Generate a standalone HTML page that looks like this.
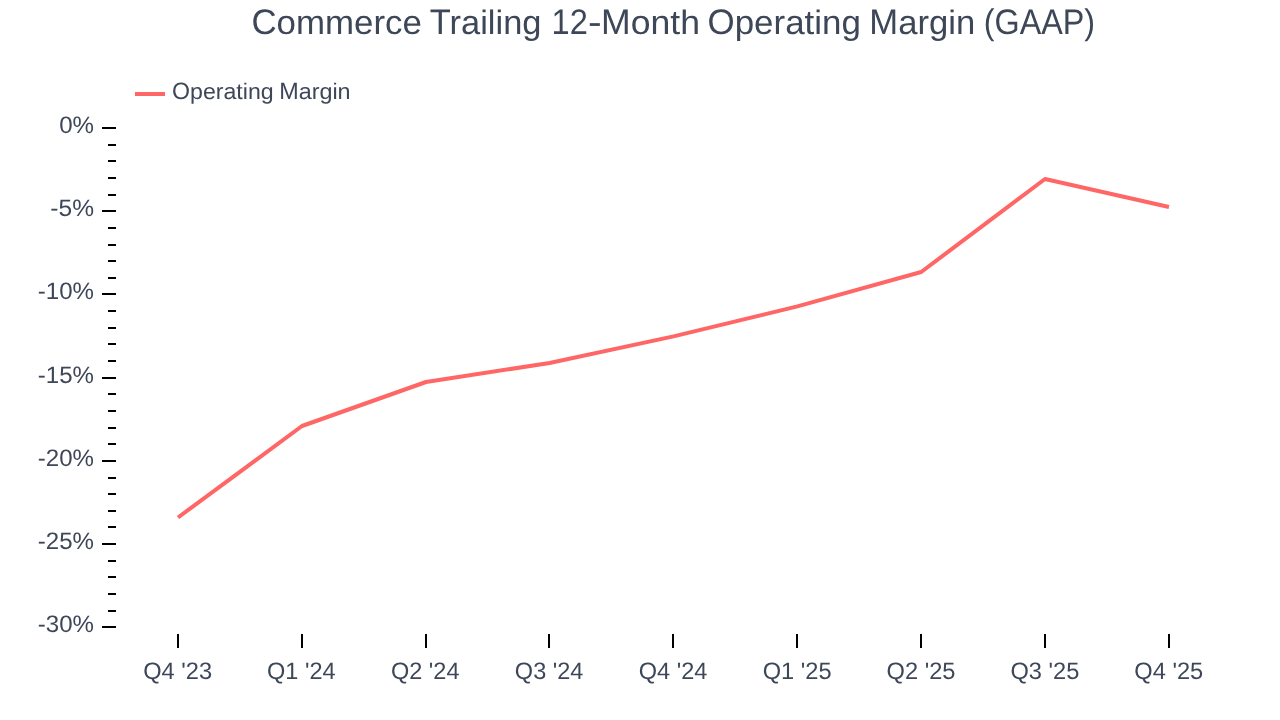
<!DOCTYPE html>
<html><head><meta charset="utf-8"><title>Chart</title>
<style>
html,body{margin:0;padding:0;background:#fff;}
body{width:1280px;height:720px;overflow:hidden;font-family:"Liberation Sans",sans-serif;}
svg{display:block;will-change:transform;}
text{font-family:"Liberation Sans",sans-serif;fill:#3D4758;text-rendering:geometricPrecision;}
</style></head><body>
<svg width="1280" height="720" viewBox="0 0 1280 720">
<text transform="translate(251.40 33.90) scale(0.9797 1)" font-size="35.6">C</text>
<text transform="translate(276.57 33.90) scale(0.9797 0.9520)" font-size="35.6">ommerce</text>
<text transform="translate(429.83 33.90) scale(0.9678 1)" font-size="35.6">T</text>
<text transform="translate(449.58 33.90) scale(0.9678 0.9520)" font-size="35.6">railing</text>
<text transform="translate(551.52 33.90) scale(0.9164 1)" font-size="35.6">12</text>
<text transform="translate(588.07 33.90) scale(1.1533 1)" font-size="35.6">-</text>
<text transform="translate(601.08 33.90) scale(0.9996 1)" font-size="35.6">M</text>
<text transform="translate(630.69 33.90) scale(0.9996 0.9520)" font-size="35.6">onth</text>
<text transform="translate(707.52 33.90) scale(0.9817 1)" font-size="35.6">O</text>
<text transform="translate(734.68 33.90) scale(0.9817 0.9520)" font-size="35.6">perating</text>
<text transform="translate(869.36 33.90) scale(0.9735 1)" font-size="35.6">M</text>
<text transform="translate(898.20 33.90) scale(0.9735 0.9520)" font-size="35.6">argin</text>
<text transform="translate(983.75 33.90) scale(0.9085 1)" font-size="35.6">(GAAP)</text>
<rect x="135" y="92" width="30" height="4" fill="#FF6666"/>
<text transform="translate(172.02 98.70) scale(0.9807 1)" font-size="23.6">O</text>
<text transform="translate(190.01 98.70) scale(0.9807 0.9520)" font-size="23.6">perating</text>
<text transform="translate(279.18 98.70) scale(0.9906 1)" font-size="23.6">M</text>
<text transform="translate(298.64 98.70) scale(0.9906 0.9520)" font-size="23.6">argin</text>
<rect x="102" y="127" width="14" height="2" fill="#000"/>
<text transform="translate(59.19 133.40) scale(1.0139 1)" font-size="23.8">0%</text>
<rect x="108" y="144" width="8" height="2" fill="#000"/>
<rect x="108" y="160" width="8" height="2" fill="#000"/>
<rect x="108" y="177" width="8" height="2" fill="#000"/>
<rect x="108" y="194" width="8" height="2" fill="#000"/>
<rect x="102" y="210" width="14" height="2" fill="#000"/>
<text transform="translate(50.33 216.40) scale(1.0318 1)" font-size="23.8">-5%</text>
<rect x="108" y="227" width="8" height="2" fill="#000"/>
<rect x="108" y="244" width="8" height="2" fill="#000"/>
<rect x="108" y="260" width="8" height="2" fill="#000"/>
<rect x="108" y="277" width="8" height="2" fill="#000"/>
<rect x="102" y="293" width="14" height="2" fill="#000"/>
<text transform="translate(37.75 299.40) scale(1.0120 1)" font-size="23.8">-10%</text>
<rect x="108" y="310" width="8" height="2" fill="#000"/>
<rect x="108" y="327" width="8" height="2" fill="#000"/>
<rect x="108" y="343" width="8" height="2" fill="#000"/>
<rect x="108" y="360" width="8" height="2" fill="#000"/>
<rect x="102" y="377" width="14" height="2" fill="#000"/>
<text transform="translate(37.75 383.40) scale(1.0120 1)" font-size="23.8">-15%</text>
<rect x="108" y="393" width="8" height="2" fill="#000"/>
<rect x="108" y="410" width="8" height="2" fill="#000"/>
<rect x="108" y="427" width="8" height="2" fill="#000"/>
<rect x="108" y="443" width="8" height="2" fill="#000"/>
<rect x="102" y="460" width="14" height="2" fill="#000"/>
<text transform="translate(37.75 466.40) scale(1.0120 1)" font-size="23.8">-20%</text>
<rect x="108" y="477" width="8" height="2" fill="#000"/>
<rect x="108" y="493" width="8" height="2" fill="#000"/>
<rect x="108" y="510" width="8" height="2" fill="#000"/>
<rect x="108" y="526" width="8" height="2" fill="#000"/>
<rect x="102" y="543" width="14" height="2" fill="#000"/>
<text transform="translate(37.75 549.40) scale(1.0120 1)" font-size="23.8">-25%</text>
<rect x="108" y="560" width="8" height="2" fill="#000"/>
<rect x="108" y="576" width="8" height="2" fill="#000"/>
<rect x="108" y="593" width="8" height="2" fill="#000"/>
<rect x="108" y="610" width="8" height="2" fill="#000"/>
<rect x="102" y="626" width="14" height="2" fill="#000"/>
<text transform="translate(37.75 632.40) scale(1.0120 1)" font-size="23.8">-30%</text>
<rect x="177" y="634" width="2" height="14" fill="#000"/>
<text transform="translate(143.15 679.20) scale(0.9936 1)" font-size="23.8">Q4 '23</text>
<rect x="301" y="634" width="2" height="14" fill="#000"/>
<text transform="translate(267.06 679.20) scale(0.9880 1)" font-size="23.8">Q1 '24</text>
<rect x="425" y="634" width="2" height="14" fill="#000"/>
<text transform="translate(390.96 679.20) scale(0.9880 1)" font-size="23.8">Q2 '24</text>
<rect x="548" y="634" width="2" height="14" fill="#000"/>
<text transform="translate(514.86 679.20) scale(0.9880 1)" font-size="23.8">Q3 '24</text>
<rect x="672" y="634" width="2" height="14" fill="#000"/>
<text transform="translate(638.76 679.20) scale(0.9880 1)" font-size="23.8">Q4 '24</text>
<rect x="796" y="634" width="2" height="14" fill="#000"/>
<text transform="translate(762.65 679.20) scale(0.9931 1)" font-size="23.8">Q1 '25</text>
<rect x="920" y="634" width="2" height="14" fill="#000"/>
<text transform="translate(886.55 679.20) scale(0.9931 1)" font-size="23.8">Q2 '25</text>
<rect x="1044" y="634" width="2" height="14" fill="#000"/>
<text transform="translate(1010.45 679.20) scale(0.9931 1)" font-size="23.8">Q3 '25</text>
<rect x="1168" y="634" width="2" height="14" fill="#000"/>
<text transform="translate(1134.35 679.20) scale(0.9931 1)" font-size="23.8">Q4 '25</text>
<polyline points="178.0,517.5 302.0,426.0 426.0,382.0 549.6,363.0 673.5,336.4 797.4,306.4 921.2,272.0 1045.0,179.0 1169.0,207.0" fill="none" stroke="#FF6666" stroke-width="4" stroke-linejoin="round" stroke-linecap="butt"/>
</svg>
</body></html>
